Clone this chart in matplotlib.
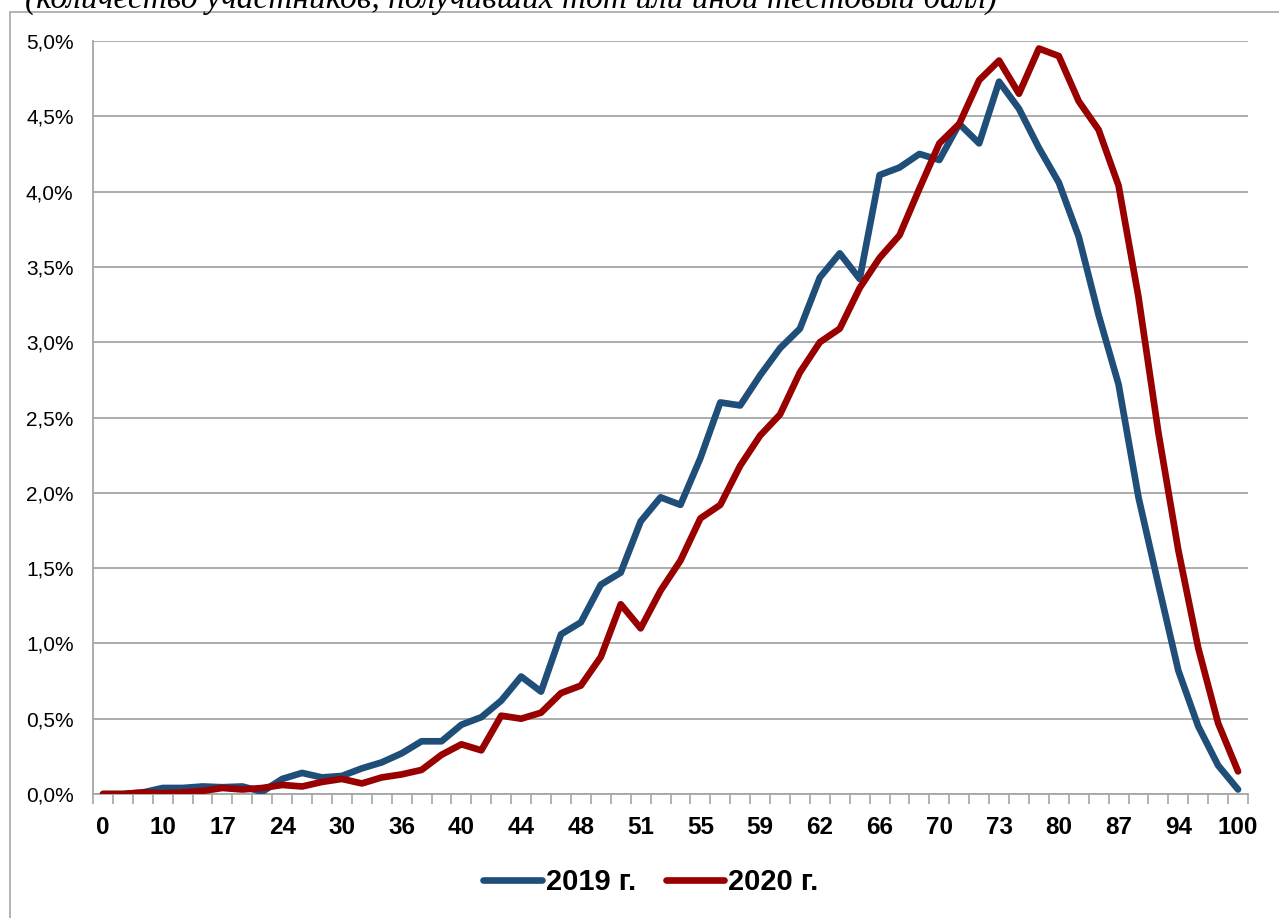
import matplotlib
matplotlib.use("Agg")
import matplotlib.pyplot as plt
from matplotlib.patches import Rectangle
from matplotlib.ticker import FixedLocator, FuncFormatter

# Test scores (categories); only every third one is labelled on the axis
scores = [0, 3, 7, 10, 12, 15, 17, 19, 22, 24, 26, 28, 30, 32, 34, 36, 37, 39, 40, 41,
          43, 44, 45, 47, 48, 49, 50, 51, 52, 54, 55, 56, 57, 59, 60, 61, 62, 63, 65, 66,
          67, 68, 70, 71, 72, 73, 76, 78, 80, 82, 85, 87, 89, 91, 94, 96, 98, 100]

# Share of participants (%) for each test score
share_2019 = [0.00, 0.00, 0.01, 0.04, 0.04, 0.05, 0.045, 0.05, 0.015, 0.10,
              0.14, 0.11, 0.12, 0.17, 0.21, 0.27, 0.35, 0.35, 0.46, 0.51,
              0.62, 0.78, 0.68, 1.06, 1.14, 1.39, 1.47, 1.81, 1.97, 1.92,
              2.23, 2.60, 2.58, 2.78, 2.96, 3.09, 3.43, 3.59, 3.42, 4.11,
              4.16, 4.25, 4.21, 4.45, 4.32, 4.73, 4.55, 4.29, 4.06, 3.70,
              3.18, 2.72, 1.97, 1.39, 0.82, 0.45, 0.19, 0.03]
share_2020 = [0.00, 0.00, 0.01, 0.005, 0.01, 0.02, 0.04, 0.03, 0.04, 0.06,
              0.05, 0.08, 0.10, 0.07, 0.11, 0.13, 0.16, 0.26, 0.33, 0.29,
              0.52, 0.50, 0.54, 0.67, 0.72, 0.91, 1.26, 1.10, 1.35, 1.55,
              1.83, 1.92, 2.18, 2.38, 2.52, 2.80, 3.00, 3.09, 3.36, 3.56,
              3.71, 4.02, 4.32, 4.45, 4.74, 4.87, 4.65, 4.95, 4.90, 4.60,
              4.41, 4.04, 3.30, 2.40, 1.62, 0.97, 0.47, 0.15]

series_names = ["2019 г.", "2020 г."]
series_colors = ["#1F4E79", "#990000"]
title_text = "(количество участников, получивших тот или иной тестовый балл)"

plt.rcParams['font.family'] = ['Liberation Sans', 'DejaVu Sans']

W, H = 1279, 918
fig = plt.figure(figsize=(W / 100, H / 100), dpi=100)
fig.patch.set_facecolor("white")

# outer frame of the chart object
fig.patches.append(Rectangle((10 / W, -0.1), 1.2, 1 - 12 / H + 0.1,
                             transform=fig.transFigure, fill=False,
                             edgecolor="#A6A6A6", linewidth=1.2))

# subtitle at the very top (cropped in the source image)
fig.text(25 / W, 1 - 8 / H, title_text, ha="left", va="baseline",
         fontsize=24, style="italic", family=["Liberation Serif", "DejaVu Serif"])

ax = fig.add_axes([93 / W, (H - 794) / H, (1248 - 93) / W, (794 - 41) / H])
x = list(range(len(scores)))

for vals, name, col in zip([share_2019, share_2020], series_names, series_colors):
    ax.plot(x, vals, color=col, linewidth=4.8, label=name,
            solid_capstyle="round", solid_joinstyle="round", zorder=3)

ax.set_xlim(-0.5, len(scores) - 0.5)
ax.set_ylim(0, 5.0)

ax.yaxis.set_major_locator(FixedLocator([i * 0.5 for i in range(11)]))
ax.yaxis.set_major_formatter(FuncFormatter(lambda v, p: f"{v:.1f}%".replace(".", ",")))
ax.tick_params(axis="y", length=0, pad=14, labelsize=15)
ax.grid(axis="y", color="#A6A6A6", linewidth=1.3, zorder=0)

major_pos = list(range(0, len(scores), 3))
ax.xaxis.set_major_locator(FixedLocator(major_pos))
ax.set_xticklabels([str(scores[i]) for i in major_pos], fontweight="bold", fontsize=17.5)
ax.tick_params(axis="x", which="major", length=0, pad=16)
ax.xaxis.set_minor_locator(FixedLocator([i - 0.5 for i in range(len(scores) + 1)]))
ax.tick_params(axis="x", which="minor", length=7, width=1.2, color="#A6A6A6")

for s in ["top", "right"]:
    ax.spines[s].set_visible(False)
for s in ["left", "bottom"]:
    ax.spines[s].set_color("#A6A6A6")
    ax.spines[s].set_linewidth(1.3)

leg = fig.legend(loc="center", bbox_to_anchor=(651 / W, (H - 882) / H), ncol=2,
                 frameon=False, prop={"weight": "bold", "size": 21},
                 handlelength=2.0, handletextpad=0.15, columnspacing=1.0)

fig.savefig("out.png", dpi=100, facecolor="white")
